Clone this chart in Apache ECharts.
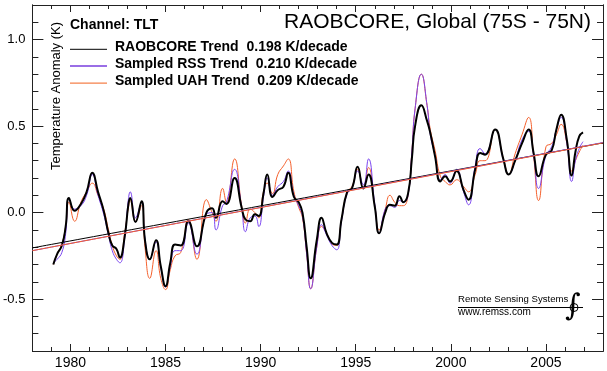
<!DOCTYPE html>
<html><head><meta charset="utf-8">
<script src="https://cdn.jsdelivr.net/npm/echarts@6/dist/echarts.min.js"></script>
<style>html,body{margin:0;padding:0;background:#fff}#c{width:607px;height:371px}</style>
</head><body><div id="c"></div>
<script>
const years = [
1979.10,1979.30,1979.55,1979.75,1979.92,1980.22,1980.55,1980.85,1981.15,1981.45,
1981.75,1982.00,1982.20,1982.42,1982.60,1982.85,1983.05,1983.14,1983.42,1983.74,
1983.92,1984.17,1984.50,1984.75,1985.00,1985.25,1985.50,1985.80,1986.20,1986.65,
1987.15,1987.45,1987.65,1988.00,1988.20,1988.63,1989.00,1989.20,1989.45,1989.70,
1989.90,1990.15,1990.35,1990.62,1990.90,1991.20,1991.45,1991.75,1992.00,1992.20,
1992.42,1992.63,1992.95,1993.20,1993.47,1993.75,1994.00,1994.25,1994.55,1994.80,
1995.10,1995.40,1995.67,1996.00,1996.23,1996.55,1996.80,1997.05,1997.30,1997.50,
1997.75,1997.95,1998.12,1998.45,1998.75,1998.92,1999.17,1999.45,1999.70,1999.96,
2000.30,2000.67,2000.93,2001.28,2001.54,2001.80,2002.33,2002.77,2003.04,2003.38,
2003.74,2004.09,2004.35,2004.61,2005.00,2005.30,2005.55,2005.80,2006.10,2006.35,
2006.55,2006.75,2006.95];
const raobcore = [
-0.30,-0.24,-0.19,-0.08,0.085,0.01,0.05,0.12,0.23,0.12,
0.01,-0.12,-0.19,-0.21,-0.26,-0.14,0.05,0.085,-0.055,0.065,
-0.16,-0.27,-0.16,-0.31,-0.425,-0.29,-0.185,-0.19,-0.05,-0.195,
0.0,0.025,-0.03,0.065,0.05,0.20,0.03,-0.04,-0.05,-0.01,
-0.02,0.11,0.22,0.09,0.13,0.15,0.23,0.09,0.06,0.0,
-0.20,-0.38,-0.16,-0.03,-0.12,-0.175,-0.185,-0.04,0.12,0.14,
0.265,0.14,0.22,0.035,-0.12,0.0,0.045,0.04,0.095,0.06,
0.11,0.31,0.50,0.62,0.53,0.46,0.325,0.18,0.21,0.18,
0.24,0.13,0.075,0.25,0.345,0.335,0.48,0.305,0.22,0.30,
0.40,0.48,0.345,0.21,0.335,0.36,0.48,0.566,0.42,0.215,
0.35,0.44,0.464];
const rss = [
-0.29,-0.27,-0.23,-0.12,0.08,0.02,0.04,0.10,0.22,0.10,
-0.01,-0.13,-0.22,-0.27,-0.29,-0.15,0.08,0.12,-0.03,0.06,
-0.15,-0.27,-0.17,-0.32,-0.43,-0.31,-0.22,-0.22,-0.06,-0.24,
-0.01,0.0,-0.10,0.04,0.06,0.25,0.03,-0.11,-0.03,-0.02,
-0.08,0.09,0.20,0.10,0.15,0.18,0.24,0.10,0.04,-0.02,
-0.24,-0.44,-0.20,-0.07,-0.13,-0.19,-0.215,-0.05,0.11,0.14,
0.24,0.16,0.31,0.05,-0.12,0.02,0.04,0.03,0.07,0.06,
0.10,0.35,0.60,0.80,0.62,0.45,0.33,0.19,0.22,0.17,
0.25,0.12,0.045,0.27,0.37,0.34,0.48,0.30,0.22,0.30,
0.42,0.47,0.33,0.14,0.33,0.38,0.48,0.55,0.40,0.18,
0.30,0.37,0.41];
const uah = [
-0.30,-0.24,-0.18,-0.08,0.06,-0.05,0.06,0.12,0.17,0.10,
0.02,-0.10,-0.19,-0.25,-0.27,-0.12,0.03,0.07,-0.05,0.04,
-0.20,-0.38,-0.22,-0.38,-0.445,-0.33,-0.25,-0.23,-0.04,-0.27,
0.075,0.0,-0.05,0.14,0.06,0.31,0.04,-0.06,0.02,0.0,
-0.03,0.12,0.17,0.11,0.22,0.27,0.31,0.12,0.03,-0.03,
-0.24,-0.44,-0.20,-0.08,-0.12,-0.18,-0.19,-0.04,0.12,0.15,
0.25,0.14,0.26,0.04,-0.10,0.02,0.10,0.06,0.04,0.04,
0.10,0.35,0.60,0.80,0.62,0.48,0.36,0.21,0.18,0.16,
0.19,0.15,0.12,0.22,0.30,0.30,0.48,0.31,0.22,0.34,
0.45,0.55,0.33,0.07,0.38,0.40,0.45,0.51,0.40,0.24,
0.30,0.35,0.39];
const trendYears = [1978, 2008];
const raobTrend = [-0.204, 0.403];
const rssTrend = [-0.22, 0.405];
const uahTrend = [-0.22, 0.403];
const xMajorTicks = [1980, 1985, 1990, 1995, 2000, 2005];
const yMajorTicks = [-0.5, 0.0, 0.5, 1.0];
const legendLabels = ['RAOBCORE Trend  0.198 K/decade', 'Sampled RSS Trend  0.210 K/decade', 'Sampled UAH Trend  0.209 K/decade'];

const FONT = 'Liberation Sans, Arial, sans-serif';
const AX = '#222';
const C_BLACK = '#000000', C_PURPLE = '#7a44f0', C_ORANGE = '#f5602c';
const pair = (xs, ys) => xs.map((x, i) => [x, ys[i]]);

const chart = echarts.init(document.getElementById('c'), null, {renderer: 'canvas'});
function xAx(pos, major, labels) {
  return {type: 'value', min: 1978, max: 2008, position: pos,
    interval: major ? undefined : 1,
    axisLine: {show: true, onZero: false, lineStyle: {color: AX, width: 1}},
    axisTick: major ? {show: true, inside: true, length: 7, customValues: xMajorTicks, lineStyle: {color: AX}}
                    : {show: true, inside: true, length: 4, lineStyle: {color: AX}},
    axisLabel: labels ? {show: true, customValues: xMajorTicks, fontSize: 14, color: '#000', fontFamily: FONT, margin: 5,
                          formatter: v => String(Math.round(v))}
                      : {show: false},
    splitLine: {show: false}};
}
function yAx(pos, major, labels) {
  return {type: 'value', min: -0.8, max: 1.2, position: pos,
    interval: major ? undefined : 0.1,
    axisLine: {show: true, onZero: false, lineStyle: {color: AX, width: 1}},
    axisTick: major ? {show: true, inside: true, length: 11, customValues: yMajorTicks, lineStyle: {color: AX}}
                    : {show: true, inside: true, length: 6, lineStyle: {color: AX}},
    axisLabel: labels ? {show: true, customValues: yMajorTicks, fontSize: 13, color: '#000', fontFamily: FONT, margin: 7,
                          formatter: v => v.toFixed(1)}
                      : {show: false},
    splitLine: {show: false}};
}
const lineS = (name, data, color, width) => ({
  name, type: 'line', data, xAxisIndex: 0, yAxisIndex: 0, showSymbol: false, symbol: 'none',
  smooth: 0.5, lineStyle: {color, width}, silent: true});
const legendY = [47, 63.8, 80.8];
const legendColors = [C_BLACK, '#9a6ee6', '#f5804a'];
const legendWidths = [1, 2, 1.3];
const graphics = [
  {type: 'text', left: 70, top: 18, style: {text: 'Channel: TLT', font: 'bold 14px ' + FONT, fill: '#000'}},
  {type: 'text', right: 16, top: 12, style: {text: 'RAOBCORE, Global (75S - 75N)', font: '21px ' + FONT, fill: '#000'}},
  {type: 'text', x: 56, y: 96, rotation: Math.PI / 2, style: {text: 'Temperature Anomaly (K)', font: '13px ' + FONT, fill: '#000', align: 'center', verticalAlign: 'middle'}},
  {type: 'text', x: 458, y: 299.7, style: {text: 'Remote Sensing Systems', font: '9.6px ' + FONT, fill: '#000', verticalAlign: 'middle'}},
  {type: 'line', shape: {x1: 458, y1: 307.5, x2: 583, y2: 307.5}, style: {stroke: '#000', lineWidth: 1}},
  {type: 'text', x: 458, y: 312.5, style: {text: 'www.remss.com', font: '10px ' + FONT, fill: '#000', verticalAlign: 'middle'}},
  {type: 'text', x: 573, y: 307, style: {text: '∫', font: 'italic 30px DejaVu Serif', fill: '#000', align: 'center', verticalAlign: 'middle'}},
  {type: 'circle', shape: {cx: 574, cy: 307.5, r: 4}, style: {stroke: '#000', fill: 'none', lineWidth: 1}}
];
legendLabels.forEach((t, i) => {
  graphics.push({type: 'line', shape: {x1: 70, y1: legendY[i] + 2.3, x2: 107, y2: legendY[i] + 2.3}, style: {stroke: legendColors[i], lineWidth: legendWidths[i]}});
  graphics.push({type: 'text', x: 115, y: legendY[i], style: {text: t, font: 'bold 14px ' + FONT, fill: '#000', verticalAlign: 'middle'}});
});

chart.setOption({
  animation: false,
  backgroundColor: '#fff',
  grid: {left: 31, right: 4, top: 5, bottom: 20, containLabel: false},
  xAxis: [xAx('bottom', false, false), xAx('bottom', true, true), xAx('top', false, false), xAx('top', true, false)],
  yAxis: [yAx('left', false, false), yAx('left', true, true), yAx('right', false, false), yAx('right', true, false)],
  series: [
    lineS('Sampled UAH', pair(years, uah), C_ORANGE, 1),
    lineS('Sampled RSS', pair(years, rss), C_PURPLE, 1),
    lineS('RAOBCORE', pair(years, raobcore), C_BLACK, 2),
    lineS(legendLabels[0], pair(trendYears, raobTrend), C_BLACK, 1),
    lineS(legendLabels[1], pair(trendYears, rssTrend), C_PURPLE, 1),
    lineS(legendLabels[2], pair(trendYears, uahTrend), C_ORANGE, 1)
  ],
  graphic: graphics
});
</script></body></html>
